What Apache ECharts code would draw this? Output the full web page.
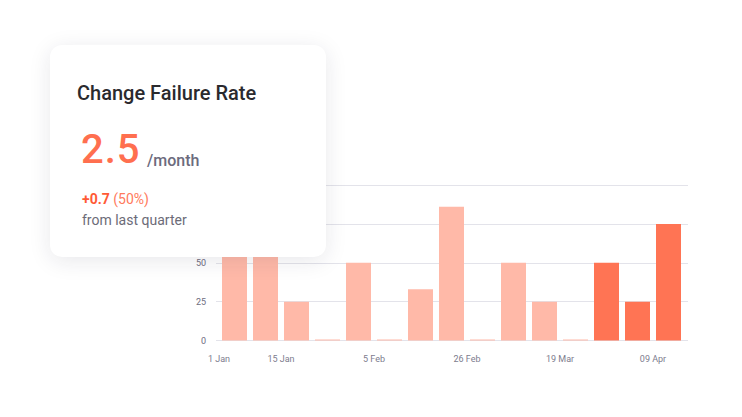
<!DOCTYPE html>
<html>
<head>
<meta charset="utf-8">
<script src="https://cdn.jsdelivr.net/npm/echarts@6/dist/echarts.min.js"></script>
<style>
    html, body { margin: 0; padding: 0; background: #fff; }
    #wrap { position: relative; width: 742px; height: 417px; overflow: hidden; font-family: Roboto, sans-serif; }
    #echarts-bar-chart { position: absolute; left: 0; top: 0; width: 742px; height: 417px; }
    .card {
        position: absolute; left: 50px; top: 45px; width: 276px; height: 212px;
        background: #fff; border-radius: 12px;
        box-shadow: 0 4px 22px rgba(30, 30, 60, 0.10);
    }
    .card div { position: absolute; white-space: nowrap; line-height: 1; }
    .title { left: 27px; top: 37.5px; font-size: 20px; font-weight: 500; color: #2a2a2e; }
    .value { left: 31px; top: 85px; font-size: 40px; font-weight: 500; color: #ff6f4f; letter-spacing: 1px; }
    .unit { left: 97px; top: 107.5px; font-size: 16px; font-weight: 500; color: #6c6b7d; }
    .delta { left: 32px; top: 146.5px; font-size: 14px; color: #ff7a5c; }
    .delta b { color: #ff5a36; font-weight: 700; }
    .since { left: 32px; top: 167.5px; font-size: 14px; color: #6c6b78; }
</style>
</head>
<body>
<div id="wrap">
    <div id="echarts-bar-chart"></div>
    <div class="card">
        <div class="title">Change Failure Rate</div>
        <div class="value">2.5</div>
        <div class="unit">/month</div>
        <div class="delta"><b>+0.7</b> (50%)</div>
        <div class="since">from last quarter</div>
    </div>
</div>
<script>
// weekly buckets, first 12 weeks last quarter, last 3 this quarter
var weeks = ['1 Jan', '8 Jan', '15 Jan', '22 Jan', '29 Jan', '5 Feb', '12 Feb', '19 Feb',
             '26 Feb', '5 Mar', '12 Mar', '19 Mar', '26 Mar', '2 Apr', '9 Apr'];
var failureRate = [75, 67, 25, 0, 50, 0, 33, 86, 0, 50, 25, 0, 50, 25, 75];
// labels sit on week boundaries (16 boundaries for 15 weeks)
var tickLabels = ['1 Jan', '', '15 Jan', '', '', '5 Feb', '', '', '26 Feb', '', '', '19 Mar', '', '', '09 Apr', ''];
var yTicks = [0, 25, 50, 75, 100];
var currentStart = 12;

var yMin = yTicks[0], yMax = yTicks[yTicks.length - 1], yStep = yTicks[1] - yTicks[0];

var barChart = echarts.init(document.getElementById('echarts-bar-chart'), null, {renderer: 'svg'});
var baroption = {
    animation: false,
    // grid 0 carries the gridlines (a bit wider), grid 1 the bars
    grid: [
        {left: 216, right: 54, top: 185, bottom: 76.5},
        {left: 219, right: 58, top: 185, bottom: 76.5}
    ],
    xAxis: [
        {
            type: 'value',
            gridIndex: 0,
            show: false
        },
        {
            type: 'category',
            gridIndex: 1,
            data: weeks,
            axisLine: {show: false},
            axisTick: {show: false},
            axisLabel: {show: false}
        },
        {
            type: 'category',
            gridIndex: 1,
            data: tickLabels,
            boundaryGap: false,
            position: 'bottom',
            axisLine: {show: false},
            axisTick: {show: false},
            axisLabel: {
                interval: 0,
                margin: 14,
                fontSize: 9,
                fontFamily: 'Roboto',
                color: '#7d7c8e'
            }
        }
    ],
    yAxis: [
        {
            type: 'value',
            gridIndex: 0,
            min: yMin,
            max: yMax,
            interval: yStep,
            axisLine: {show: false},
            axisTick: {show: false},
            axisLabel: {
                margin: 10,
                fontSize: 9,
                fontFamily: 'Roboto',
                color: '#6e6d80'
            },
            splitLine: {
                lineStyle: {color: '#e3e3ea', width: 1}
            }
        },
        {
            type: 'value',
            gridIndex: 1,
            min: yMin,
            max: yMax,
            interval: yStep,
            show: false
        }
    ],
    series: [
        {
            name: 'Change Failure Rate',
            type: 'bar',
            xAxisIndex: 1,
            yAxisIndex: 1,
            data: failureRate,
            barWidth: 25,
            barMinHeight: 1,
            itemStyle: {
                color: function (p) {
                    return p.dataIndex >= currentStart ? '#ff7454' : '#ffb9a8';
                }
            }
        }
    ]
};
barChart.setOption(baroption);
window.onresize = barChart.resize;
</script>
</body>
</html>
